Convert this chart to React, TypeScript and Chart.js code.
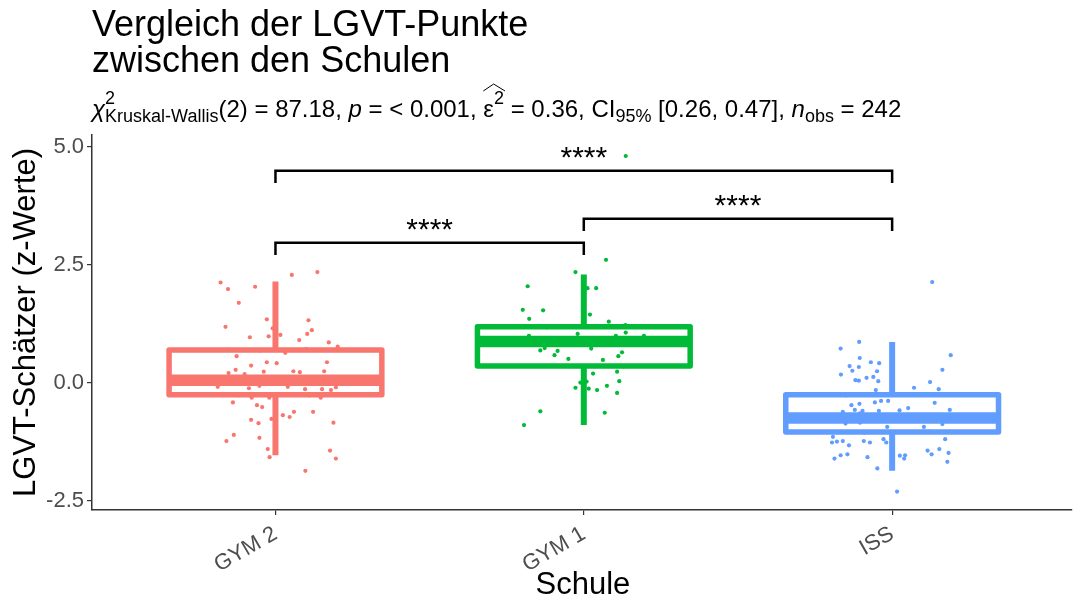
import React, { useEffect, useRef } from 'react';
import { Chart, registerables } from 'chart.js';

Chart.register(...registerables);

// ---- data -------------------------------------------------------------
const schulen = ['GYM 2', 'GYM 1', 'ISS'];
const farben = ['#F8766D', '#00BA38', '#619CFF'];

// box statistics per school (z-values)
const whiskerLow = [-1.53, -0.89, -1.86];
const boxQ1 = [-0.25, 0.36, -1.04];
const boxMedian = [0.06, 0.88, -0.74];
const boxQ3 = [0.70, 1.19, -0.25];
const whiskerHigh = [2.15, 2.30, 0.87];

// individual observations: [z-value, horizontal jitter in category units]
const gym2Punkte: [number, number][] = [
  [2.13, -0.178], [1.99, -0.154], [2.04, -0.066], [2.29, 0.053], [2.35, 0.136], [1.70, -0.119],
  [1.35, -0.028], [1.19, -0.162], [1.33, 0.107], [1.12, 0.118], [1.04, 0.103], [1.02, 0.016],
  [0.97, -0.083], [0.99, -0.022], [0.91, 0.077], [0.86, 0.173], [0.77, 0.202], [1.16, -0.009],
  [0.64, 0.032], [0.57, -0.126], [0.37, -0.079], [0.44, -0.028], [0.42, 0.004], [0.44, 0.167],
  [0.28, -0.129], [0.21, -0.152], [0.24, -0.038], [0.25, 0.058], [0.23, 0.079], [0.25, 0.158],
  [0.19, -0.100], [-0.08, -0.187], [-0.11, -0.086], [-0.06, -0.052], [-0.08, 0.040], [-0.13, 0.096],
  [-0.13, 0.151], [-0.15, 0.180], [-0.09, 0.196], [-0.31, -0.077], [-0.31, -0.020], [-0.31, 0.147],
  [-0.41, -0.138], [-0.47, -0.060], [-0.51, -0.043], [-0.61, 0.060], [-0.68, 0.024], [-0.72, 0.046],
  [-0.61, 0.122], [-0.76, -0.013], [-0.78, -0.079], [-0.85, -0.055], [-0.84, 0.188], [-1.10, -0.135],
  [-1.16, -0.052], [-1.23, -0.159], [-1.40, -0.025], [-1.57, -0.019], [-1.43, 0.177], [-1.60, 0.196],
  [-1.86, 0.097], [0.08, -0.17], [0.05, -0.11], [0.10, -0.04], [0.02, 0.03], [0.12, 0.09],
  [0.07, 0.14], [0.04, 0.19], [0.11, -0.06], [0.03, 0.06], [-0.26, -0.12], [-0.24, 0.01],
  [-0.26, 0.11], [0.71, -0.15], [0.69, -0.05], [0.72, 0.10], [0.09, 0.0], [0.13, -0.14], [0.01, 0.17],
];

const gym1Punkte: [number, number][] = [
  [2.61, 0.072], [2.35, -0.027], [2.05, -0.182], [2.01, 0.012], [2.01, 0.040], [1.55, -0.198],
  [1.54, -0.132], [1.36, -0.177], [1.45, 0.020], [1.30, 0.081], [1.23, 0.135], [1.04, -0.020],
  [1.00, 0.104], [1.07, 0.136], [1.00, 0.195], [1.00, -0.178], [0.69, -0.141], [0.74, -0.127],
  [0.68, -0.085], [0.59, -0.095], [0.51, -0.050], [0.73, 0.024], [0.49, 0.062], [0.57, 0.112],
  [0.65, 0.124], [0.24, 0.108], [0.20, 0.030], [0.04, 0.115], [0.01, -0.011], [0.03, 0.009],
  [-0.10, -0.027], [-0.12, 0.016], [-0.15, 0.043], [-0.06, 0.075], [-0.21, 0.108], [-0.60, -0.141],
  [-0.63, 0.068], [-0.89, -0.194], [4.81, 0.136], [0.86, -0.16], [0.90, -0.07], [0.85, 0.02],
  [0.92, 0.09], [0.88, 0.15], [0.84, -0.11], [0.91, 0.05], [0.87, 0.18], [1.18, -0.12],
  [1.20, 0.05], [0.36, -0.03], [0.35, 0.13],
];

const issPunkte: [number, number][] = [
  [2.14, 0.130], [0.87, -0.107], [0.73, -0.167], [0.59, 0.190], [0.53, -0.105], [0.44, -0.069],
  [0.42, -0.042], [0.36, -0.138], [0.34, -0.108], [0.26, -0.129], [0.25, -0.049], [0.28, 0.163],
  [0.18, -0.166], [0.11, -0.083], [0.13, -0.061], [0.06, -0.119], [0.05, -0.108], [0.04, -0.045],
  [0.02, 0.123], [-0.10, 0.071], [-0.13, 0.151], [-0.15, -0.053], [-0.38, -0.036], [-0.38, -0.013],
  [-0.41, -0.056], [-0.44, -0.106], [-0.47, -0.132], [-0.42, 0.138], [-0.53, 0.052], [-0.58, 0.024],
  [-0.57, -0.121], [-0.59, -0.096], [-0.59, -0.043], [-0.57, 0.187], [-0.61, -0.160], [-0.86, -0.151],
  [-0.84, -0.104], [-0.93, -0.016], [-0.93, 0.103], [-0.87, 0.163], [-1.14, -0.192], [-1.23, -0.160],
  [-1.24, -0.179], [-1.26, -0.195], [-1.32, -0.140], [-1.23, -0.092], [-1.26, -0.072], [-1.19, -0.028],
  [-1.26, -0.019], [-1.19, 0.172], [-1.43, 0.115], [-1.51, 0.128], [-1.40, 0.153], [-1.48, 0.183],
  [-1.67, 0.179], [-1.53, -0.167], [-1.51, -0.145], [-1.60, -0.187], [-1.57, -0.080], [-1.54, 0.025],
  [-1.53, 0.042], [-1.60, 0.039], [-1.81, -0.048], [-2.30, 0.016], [-0.66, -0.16], [-0.64, -0.104],
  [-0.72, -0.19], [-0.75, -0.13], [-0.70, -0.07], [-0.78, -0.02], [-0.73, 0.04], [-0.76, 0.10],
  [-0.71, 0.16], [-0.74, 0.19], [-0.26, -0.15], [-0.24, 0.06], [-1.05, -0.09], [-1.03, 0.12],
];

const punkteJeSchule = [gym2Punkte, gym1Punkte, issPunkte];

// pairwise comparisons (category positions), bracket heights and labels
const vergleichVon = [1, 2, 1];
const vergleichBis = [2, 3, 3];
const bracketHoehe = [2.97, 3.48, 4.50];
const bracketLabel = ['****', '****', '****'];

// overall test statistics
const chiQuadrat = '87.18';
const freiheitsgrade = '2';
const pWert = '< 0.001';
const epsilonQuadrat = '0.36';
const ciUnten = '0.26';
const ciOben = '0.47';
const nObs = '242';

const yTicks = [-2.5, 0, 2.5, 5];

// ---- styling ----------------------------------------------------------
const FONT = "'Liberation Sans', Arial, Helvetica, sans-serif";
const BOX_HALF = 0.345;
const BRACKET_DROP = 0.26;

const boxPlugin = {
  id: 'boxplotsUndVergleiche',
  afterDatasetsDraw(chart: any) {
    const { ctx, scales } = chart;
    const x = scales.x;
    const y = scales.y;
    ctx.save();
    ctx.lineJoin = 'round';
    schulen.forEach((_, i) => {
      const cx = x.getPixelForValue(i + 1);
      const left = x.getPixelForValue(i + 1 - BOX_HALF);
      const right = x.getPixelForValue(i + 1 + BOX_HALF);
      const yLo = y.getPixelForValue(whiskerLow[i]);
      const yQ1 = y.getPixelForValue(boxQ1[i]);
      const yMed = y.getPixelForValue(boxMedian[i]);
      const yQ3 = y.getPixelForValue(boxQ3[i]);
      const yHi = y.getPixelForValue(whiskerHigh[i]);
      ctx.strokeStyle = farben[i];
      // whiskers
      ctx.lineWidth = 6;
      ctx.lineCap = 'butt';
      ctx.beginPath();
      ctx.moveTo(cx, yQ3);
      ctx.lineTo(cx, yHi);
      ctx.moveTo(cx, yQ1);
      ctx.lineTo(cx, yLo);
      ctx.stroke();
      // box
      ctx.lineWidth = 5.5;
      ctx.strokeRect(left, yQ3, right - left, yQ1 - yQ3);
      // median
      ctx.lineWidth = 11.5;
      ctx.beginPath();
      ctx.moveTo(left, yMed);
      ctx.lineTo(right, yMed);
      ctx.stroke();
    });

    // significance brackets
    ctx.strokeStyle = '#000000';
    ctx.fillStyle = '#000000';
    ctx.lineWidth = 2.5;
    ctx.lineCap = 'butt';
    ctx.lineJoin = 'miter';
    ctx.font = `30px ${FONT}`;
    ctx.textAlign = 'center';
    ctx.textBaseline = 'alphabetic';
    bracketHoehe.forEach((h, k) => {
      const x1 = x.getPixelForValue(vergleichVon[k]);
      const x2 = x.getPixelForValue(vergleichBis[k]);
      const yTop = y.getPixelForValue(h);
      const yDrop = y.getPixelForValue(h - BRACKET_DROP);
      ctx.beginPath();
      ctx.moveTo(x1, yDrop);
      ctx.lineTo(x1, yTop);
      ctx.lineTo(x2, yTop);
      ctx.lineTo(x2, yDrop);
      ctx.stroke();
      ctx.fillText(bracketLabel[k], (x1 + x2) / 2, yTop - 4);
    });
    ctx.restore();
  },
  afterDraw(chart: any) {
    const { ctx, chartArea } = chart;
    ctx.save();
    ctx.fillStyle = '#000000';
    ctx.textAlign = 'left';
    ctx.textBaseline = 'alphabetic';

    // title
    ctx.font = `36px ${FONT}`;
    ctx.fillText('Vergleich der LGVT-Punkte', 92, 36);
    ctx.fillText('zwischen den Schulen', 92, 72);

    // subtitle with sub- and superscripts
    const base = 117;
    const big = 24;
    const small = 18;
    let cx = 92;
    const put = (text: string, size: number, dy: number, italic = false, advance = true) => {
      ctx.font = `${italic ? 'italic ' : ''}${size}px ${FONT}`;
      ctx.fillText(text, cx, base + dy);
      const w = ctx.measureText(text).width;
      if (advance) cx += w;
      return w;
    };
    put('χ', big, 0, true);
    const wSup = put('2', small, -13, false, false);
    const wSub = put('Kruskal-Wallis', small, 5, false, false);
    cx += Math.max(wSup, wSub);
    put(`(${freiheitsgrade}) = ${chiQuadrat}, `, big, 0);
    put('p', big, 0, true);
    put(` = ${pWert}, `, big, 0);
    const epsStart = cx;
    put('ε', big, 0);
    put('2', small, -13);
    const epsEnd = cx;
    ctx.lineWidth = 1;
    ctx.strokeStyle = '#000000';
    ctx.beginPath();
    ctx.moveTo(epsStart, base - 26);
    ctx.lineTo((epsStart + epsEnd) / 2, base - 33);
    ctx.lineTo(epsEnd + 1, base - 26);
    ctx.stroke();
    put(` = ${epsilonQuadrat}, CI`, big, 0);
    put('95%', small, 5);
    put(` [${ciUnten}, ${ciOben}], `, big, 0);
    put('n', big, 0, true);
    put('obs', small, 5);
    put(` = ${nObs}`, big, 0);

    // axis titles
    ctx.font = `31px ${FONT}`;
    ctx.textAlign = 'center';
    ctx.textBaseline = 'middle';
    ctx.fillText('Schule', (chartArea.left + chartArea.right) / 2 + 1, 585);
    ctx.save();
    ctx.translate(26, (chartArea.top + chartArea.bottom) / 2);
    ctx.rotate(-Math.PI / 2);
    ctx.fillText('LGVT-Schätzer (z-Werte)', 0, 0);
    ctx.restore();
    ctx.restore();
  },
};

export default function App() {
  const canvasRef = useRef<HTMLCanvasElement | null>(null);

  useEffect(() => {
    const canvas = canvasRef.current;
    if (!canvas) return;
    const datasets = punkteJeSchule.map((punkte, i) => ({
      label: schulen[i],
      data: punkte.map(([wert, jitter]) => ({ x: i + 1 + jitter, y: wert })),
      backgroundColor: farben[i],
      borderWidth: 0,
      pointRadius: 2.1,
      pointHoverRadius: 2.1,
    }));

    const chart = new Chart(canvas, {
      type: 'scatter',
      data: { datasets },
      plugins: [boxPlugin],
      options: {
        responsive: false,
        animation: false,
        events: [],
        layout: { padding: { top: 135, left: 0, right: 0, bottom: 0 } },
        plugins: {
          legend: { display: false },
          title: { display: false },
          tooltip: { enabled: false },
        },
        scales: {
          x: {
            type: 'linear',
            min: 0.405,
            max: 3.583,
            afterBuildTicks: (scale: any) => {
              scale.ticks = schulen.map((_, i) => ({ value: i + 1 }));
            },
            afterFit: (scale: any) => {
              scale.height = 92;
            },
            ticks: {
              autoSkip: false,
              minRotation: 30,
              maxRotation: 30,
              padding: 6,
              color: '#4D4D4D',
              font: { family: FONT, size: 22 },
              callback: (v: any) => schulen[Math.round(Number(v)) - 1] ?? '',
            },
            grid: { drawOnChartArea: false, drawTicks: true, tickLength: 5, color: '#333333', lineWidth: 1.2 },
            border: { display: true, color: '#333333', width: 1.5 },
          },
          y: {
            type: 'linear',
            min: -2.69,
            max: 5.255,
            afterBuildTicks: (scale: any) => {
              scale.ticks = yTicks.map((v) => ({ value: v }));
            },
            afterFit: (scale: any) => {
              scale.width = 92;
            },
            ticks: {
              padding: 3,
              color: '#4D4D4D',
              font: { family: FONT, size: 22 },
              callback: (v: any) => Number(v).toFixed(1),
            },
            grid: { drawOnChartArea: false, drawTicks: true, tickLength: 5, color: '#333333', lineWidth: 1.2 },
            border: { display: true, color: '#333333', width: 1.5 },
          },
        },
      },
    });
    return () => chart.destroy();
  }, []);

  return (
    <div style={{ position: 'absolute', left: 0, top: 0, width: 1074, height: 602, background: '#ffffff' }}>
      <canvas ref={canvasRef} width={1074} height={602} style={{ display: 'block' }} />
    </div>
  );
}
